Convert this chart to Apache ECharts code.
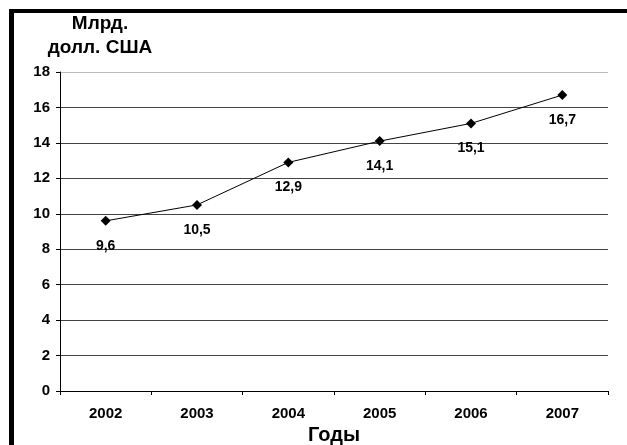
<!DOCTYPE html>
<html><head><meta charset="utf-8">
<script src="https://cdn.jsdelivr.net/npm/echarts@6/dist/echarts.min.js"></script>
<style>html,body{margin:0;padding:0;background:#fff}#c{width:627px;height:445px}</style>
</head><body><div id="c"></div>
<script>
const categories = ['2002','2003','2004','2005','2006','2007'];
const values = [9.6, 10.5, 12.9, 14.1, 15.1, 16.7];
const yTitle = 'Млрд.\nдолл. США';
const xTitle = 'Годы';
const font = '"Liberation Sans", Arial, sans-serif';
const chart = echarts.init(document.getElementById('c'));
chart.setOption({
  animation: false,
  backgroundColor: '#fff',
  grid: {left: 60, right: 19, top: 72, bottom: 54, containLabel: false, outerBoundsMode: 'none'},
  graphic: [
    {type: 'rect', shape: {x: 9, y: 9, width: 5, height: 436}, style: {fill: '#000'}},
    {type: 'rect', shape: {x: 9, y: 9, width: 618, height: 4}, style: {fill: '#000'}},
    {type: 'text', x: 0, y: 0, style: {text: yTitle, x: 100, y: 12, textAlign: 'center', font: 'bold 19px ' + font, lineHeight: 24, fill: '#000'}}
  ],
  xAxis: {
    type: 'category', data: categories, boundaryGap: true,
    name: xTitle, nameLocation: 'middle', nameGap: 31,
    nameTextStyle: {fontFamily: font, fontWeight: 'bold', fontSize: 20, color: '#000'},
    axisLine: {lineStyle: {color: '#000', width: 1}},
    axisTick: {show: true, inside: false, length: 4, alignWithLabel: false, lineStyle: {color: '#000'}},
    axisLabel: {fontFamily: font, fontWeight: 'bold', fontSize: 15, color: '#000', margin: 15}
  },
  yAxis: {
    type: 'value', min: 0, max: 18, interval: 2,
    axisLine: {show: true, lineStyle: {color: '#000', width: 1}},
    axisTick: {show: true, length: 4, lineStyle: {color: '#000'}},
    axisLabel: {fontFamily: font, fontWeight: 'bold', fontSize: 15, color: '#000', margin: 10},
    splitLine: {show: true, lineStyle: {color: ['#000','#444','#444','#444','#444','#444','#444','#444','#444','#bbb'], width: 1}}
  },
  series: [{
    type: 'line', data: values,
    symbol: 'diamond', symbolSize: 10,
    itemStyle: {color: '#000'},
    lineStyle: {color: '#000', width: 1},
    label: {show: true, position: 'bottom', distance: 13,
      fontFamily: font, fontWeight: 'bold', fontSize: 14, color: '#000',
      formatter: p => String(p.value).replace('.', ',')}
  }]
});
</script></body></html>
